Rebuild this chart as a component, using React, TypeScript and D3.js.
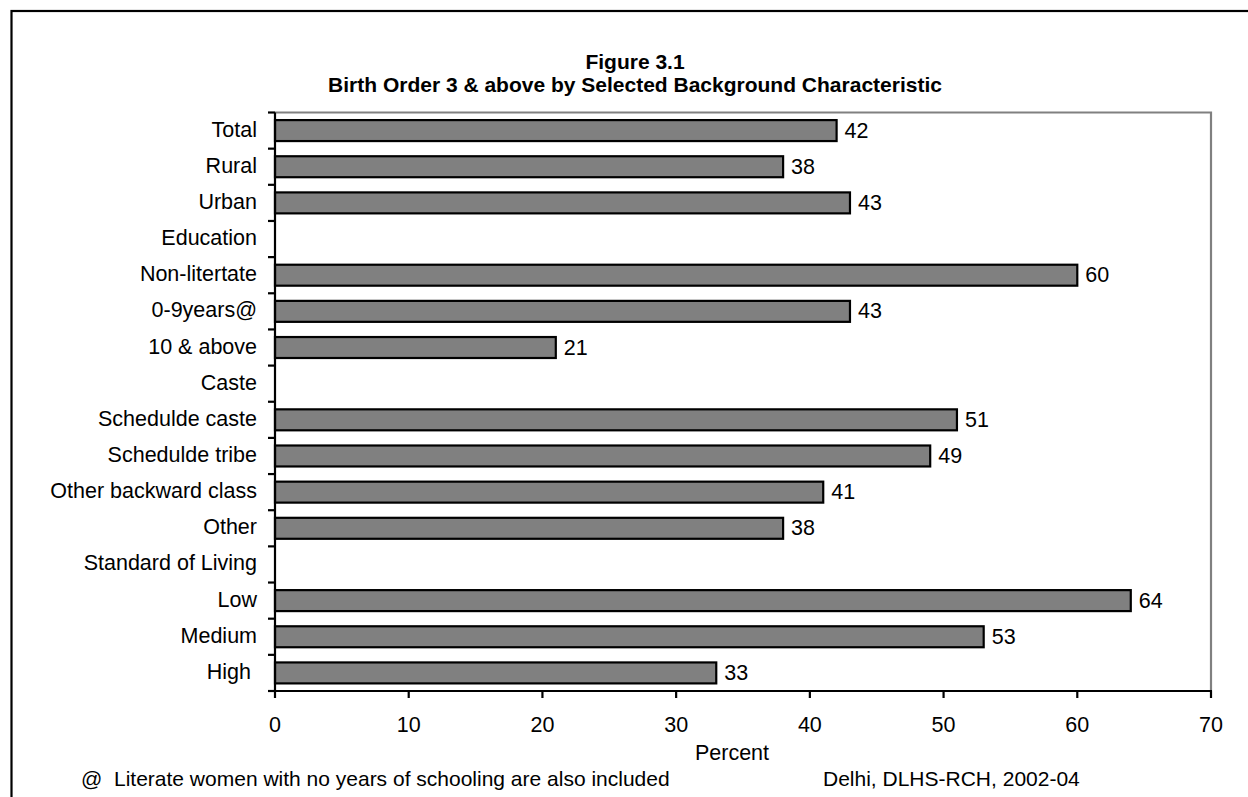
import React from "react";
import * as d3 from "d3";

// Birth order 3 & above (percent) by background characteristic.
// Empty values are section headers that carry no bar.
const categories: string[] = [
  "Total",
  "Rural",
  "Urban",
  "Education",
  "Non-litertate",
  "0-9years@",
  "10 & above",
  "Caste",
  "Schedulde caste",
  "Schedulde tribe",
  "Other backward class",
  "Other",
  "Standard of Living",
  "Low",
  "Medium",
  "High ",
];

const values: (number | null)[] = [
  42, 38, 43, null, 60, 43, 21, null, 51, 49, 41, 38, null, 64, 53, 33,
];

const xTicks: number[] = [0, 10, 20, 30, 40, 50, 60, 70];

const titleLines: string[] = [
  "Figure 3.1",
  "Birth Order 3 & above by Selected Background Characteristic",
];
const xAxisTitle = "Percent";
const footnote = "@  Literate women with no years of schooling are also included";
const source = "Delhi, DLHS-RCH, 2002-04";

const W = 1248;
const H = 797;
const plot = { left: 275, right: 1211, top: 112.5, bottom: 691 };
const FONT = "'Liberation Sans', Arial, Helvetica, sans-serif";
const FS = 21.5;

export default function App() {
  const x = d3.scaleLinear().domain([0, 70]).range([plot.left, plot.right]);
  const y = d3
    .scaleBand<string>()
    .domain(categories)
    .range([plot.top, plot.bottom])
    .paddingInner(0)
    .paddingOuter(0);
  const step = y.step();
  const barH = step * 0.58;
  const titleX = 635;

  // boundaries between category bands (tick positions)
  const boundaries = d3.range(categories.length + 1).map((i) => plot.top + i * step);

  return (
    <svg
      width={W}
      height={H}
      style={{ position: "absolute", left: 0, top: 0, background: "#fff" }}
      fontFamily={FONT}
    >
      <rect x={0} y={0} width={W} height={H} fill="#fff" />
      {/* outer frame, open past the right and bottom edges */}
      <rect x={11.5} y={11} width={W + 20} height={H + 20} fill="none" stroke="#000" strokeWidth={2.2} />

      {/* title */}
      {titleLines.map((t, i) => (
        <text
          key={t}
          x={titleX}
          y={61 + i * 23}
          textAnchor="middle"
          dominantBaseline="central"
          fontWeight="bold"
          fontSize={21}
        >
          {t}
        </text>
      ))}

      {/* plot area top and right borders */}
      <path
        d={`M${plot.left},${plot.top}H${plot.right}V${plot.bottom}`}
        fill="none"
        stroke="#808080"
        strokeWidth={2.2}
      />

      {/* bars */}
      {categories.map((c, i) => {
        const v = values[i];
        if (v == null) return null;
        const yc = (y(c) as number) + step / 2;
        return (
          <g key={c}>
            <rect
              x={x(0)}
              y={yc - barH / 2}
              width={x(v) - x(0)}
              height={barH}
              fill="#808080"
              stroke="#000"
              strokeWidth={2.2}
            />
            <text
              x={x(v) + 8}
              y={yc}
              dominantBaseline="central"
              fontSize={FS}
              fill="#000"
            >
              {d3.format(".0f")(v)}
            </text>
          </g>
        );
      })}

      {/* category labels */}
      {categories.map((c) => (
        <text
          key={"l" + c}
          x={257}
          y={(y(c) as number) + step / 2 - 1}
          textAnchor="end"
          dominantBaseline="central"
          fontSize={FS}
          style={{ whiteSpace: "pre" }}
        >
          {c.endsWith(" ") ? c.trimEnd() + "\u00a0" : c}
        </text>
      ))}

      {/* y axis with ticks at band boundaries */}
      <line x1={plot.left} x2={plot.left} y1={plot.top} y2={plot.bottom} stroke="#000" strokeWidth={2.2} />
      {boundaries.map((b, i) => (
        <line key={"yt" + i} x1={plot.left - 7} x2={plot.left} y1={b} y2={b} stroke="#000" strokeWidth={2.2} />
      ))}

      {/* x axis */}
      <line x1={plot.left - 1} x2={plot.right + 1} y1={plot.bottom} y2={plot.bottom} stroke="#000" strokeWidth={2.2} />
      {xTicks.map((t) => (
        <g key={"xt" + t}>
          <line x1={x(t)} x2={x(t)} y1={plot.bottom} y2={plot.bottom + 7} stroke="#000" strokeWidth={2.2} />
          <text x={x(t)} y={725} textAnchor="middle" dominantBaseline="central" fontSize={FS}>
            {t}
          </text>
        </g>
      ))}

      <text x={732} y={753} textAnchor="middle" dominantBaseline="central" fontSize={FS}>
        {xAxisTitle}
      </text>
      <text x={81} y={778} dominantBaseline="central" fontSize={21} style={{ whiteSpace: "pre" }}>
        {footnote}
      </text>
      <text x={823} y={778} dominantBaseline="central" fontSize={21}>
        {source}
      </text>
    </svg>
  );
}
